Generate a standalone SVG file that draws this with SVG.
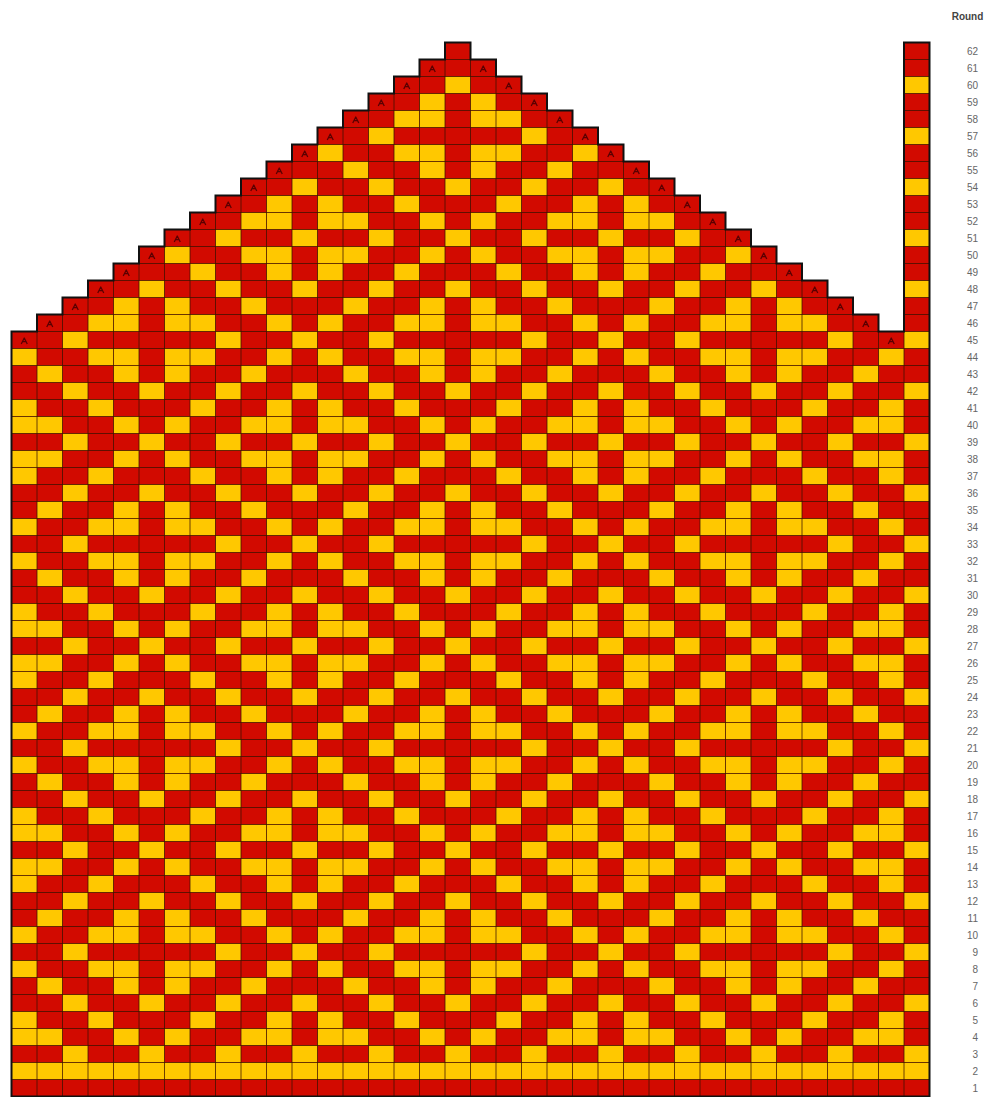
<svg xmlns="http://www.w3.org/2000/svg" xmlns:xlink="http://www.w3.org/1999/xlink" width="993" height="1097" viewBox="0 0 993 1097">
<style>
.lbl{font-family:"Liberation Sans",Arial,sans-serif;font-size:10px;fill:#666;text-anchor:end}
.ttl{font-family:"Liberation Sans",Arial,sans-serif;font-size:10px;font-weight:bold;fill:#444;text-anchor:middle}
.grid{stroke:#3a1200;stroke-width:1;opacity:0.75;fill:none}
.dec{fill:none;stroke:#5a0000;stroke-width:1.3;stroke-linejoin:round}
</style>
<defs>
<clipPath id="shape">
<path id="outlinePath" d="M11.5,1096.5 L11.5,331.5 L37,331.5 L37,314.5 L62.5,314.5 L62.5,297.5 L88,297.5 L88,280.5 L113.5,280.5 L113.5,263.5 L139,263.5 L139,246.5 L164.5,246.5 L164.5,229.5 L190,229.5 L190,212.5 L215.5,212.5 L215.5,195.5 L241,195.5 L241,178.5 L266.5,178.5 L266.5,161.5 L292,161.5 L292,144.5 L317.5,144.5 L317.5,127.5 L343,127.5 L343,110.5 L368.5,110.5 L368.5,93.5 L394,93.5 L394,76.5 L419.5,76.5 L419.5,59.5 L445,59.5 L445,42.5 L470.5,42.5 L470.5,59.5 L496,59.5 L496,76.5 L521.5,76.5 L521.5,93.5 L547,93.5 L547,110.5 L572.5,110.5 L572.5,127.5 L598,127.5 L598,144.5 L623.5,144.5 L623.5,161.5 L649,161.5 L649,178.5 L674.5,178.5 L674.5,195.5 L700,195.5 L700,212.5 L725.5,212.5 L725.5,229.5 L751,229.5 L751,246.5 L776.5,246.5 L776.5,263.5 L802,263.5 L802,280.5 L827.5,280.5 L827.5,297.5 L853,297.5 L853,314.5 L878.5,314.5 L878.5,331.5 L904,331.5 L904,42.5 L929.5,42.5 L929.5,1096.5 Z"/>
</clipPath>
<rect id="c" width="25.5" height="17" fill="#ffc800"/>
<path id="dm" class="dec" d="M-3,3 L0,-3 L3,3 M-1.6,0.6 H1.6"/>
<g id="rA"><use href="#c" x="62.5"/><use href="#c" x="139"/><use href="#c" x="215.5"/><use href="#c" x="292"/><use href="#c" x="368.5"/><use href="#c" x="445"/><use href="#c" x="521.5"/><use href="#c" x="598"/><use href="#c" x="674.5"/><use href="#c" x="751"/><use href="#c" x="827.5"/><use href="#c" x="904"/></g>
<g id="rB"><use href="#c" x="11.5"/><use href="#c" x="37"/><use href="#c" x="113.5"/><use href="#c" x="164.5"/><use href="#c" x="241"/><use href="#c" x="266.5"/><use href="#c" x="317.5"/><use href="#c" x="343"/><use href="#c" x="419.5"/><use href="#c" x="470.5"/><use href="#c" x="547"/><use href="#c" x="572.5"/><use href="#c" x="623.5"/><use href="#c" x="649"/><use href="#c" x="725.5"/><use href="#c" x="776.5"/><use href="#c" x="853"/><use href="#c" x="878.5"/></g>
<g id="rC"><use href="#c" x="11.5"/><use href="#c" x="88"/><use href="#c" x="190"/><use href="#c" x="266.5"/><use href="#c" x="317.5"/><use href="#c" x="394"/><use href="#c" x="496"/><use href="#c" x="572.5"/><use href="#c" x="623.5"/><use href="#c" x="700"/><use href="#c" x="802"/><use href="#c" x="878.5"/></g>
<g id="rD"><use href="#c" x="37"/><use href="#c" x="113.5"/><use href="#c" x="164.5"/><use href="#c" x="241"/><use href="#c" x="343"/><use href="#c" x="419.5"/><use href="#c" x="470.5"/><use href="#c" x="547"/><use href="#c" x="649"/><use href="#c" x="725.5"/><use href="#c" x="776.5"/><use href="#c" x="853"/></g>
<g id="rE"><use href="#c" x="11.5"/><use href="#c" x="88"/><use href="#c" x="113.5"/><use href="#c" x="164.5"/><use href="#c" x="190"/><use href="#c" x="266.5"/><use href="#c" x="317.5"/><use href="#c" x="394"/><use href="#c" x="419.5"/><use href="#c" x="470.5"/><use href="#c" x="496"/><use href="#c" x="572.5"/><use href="#c" x="623.5"/><use href="#c" x="700"/><use href="#c" x="725.5"/><use href="#c" x="776.5"/><use href="#c" x="802"/><use href="#c" x="878.5"/></g>
<g id="rF"><use href="#c" x="62.5"/><use href="#c" x="215.5"/><use href="#c" x="292"/><use href="#c" x="368.5"/><use href="#c" x="521.5"/><use href="#c" x="598"/><use href="#c" x="674.5"/><use href="#c" x="827.5"/><use href="#c" x="904"/></g>
</defs>
<rect width="993" height="1097" fill="#ffffff"/>
<g id="chart">
<g clip-path="url(#shape)">
<rect x="11.5" y="42.5" width="918" height="1054" fill="#d20a00"/>
<g id="cells">
<use href="#rB" y="42.5"/>
<use href="#rC" y="59.5"/>
<use href="#rA" y="76.5"/>
<use href="#rD" y="93.5"/>
<use href="#rE" y="110.5"/>
<use href="#rF" y="127.5"/>
<use href="#rE" y="144.5"/>
<use href="#rD" y="161.5"/>
<use href="#rA" y="178.5"/>
<use href="#rC" y="195.5"/>
<use href="#rB" y="212.5"/>
<use href="#rA" y="229.5"/>
<use href="#rB" y="246.5"/>
<use href="#rC" y="263.5"/>
<use href="#rA" y="280.5"/>
<use href="#rD" y="297.5"/>
<use href="#rE" y="314.5"/>
<use href="#rF" y="331.5"/>
<use href="#rE" y="348.5"/>
<use href="#rD" y="365.5"/>
<use href="#rA" y="382.5"/>
<use href="#rC" y="399.5"/>
<use href="#rB" y="416.5"/>
<use href="#rA" y="433.5"/>
<use href="#rB" y="450.5"/>
<use href="#rC" y="467.5"/>
<use href="#rA" y="484.5"/>
<use href="#rD" y="501.5"/>
<use href="#rE" y="518.5"/>
<use href="#rF" y="535.5"/>
<use href="#rE" y="552.5"/>
<use href="#rD" y="569.5"/>
<use href="#rA" y="586.5"/>
<use href="#rC" y="603.5"/>
<use href="#rB" y="620.5"/>
<use href="#rA" y="637.5"/>
<use href="#rB" y="654.5"/>
<use href="#rC" y="671.5"/>
<use href="#rA" y="688.5"/>
<use href="#rD" y="705.5"/>
<use href="#rE" y="722.5"/>
<use href="#rF" y="739.5"/>
<use href="#rE" y="756.5"/>
<use href="#rD" y="773.5"/>
<use href="#rA" y="790.5"/>
<use href="#rC" y="807.5"/>
<use href="#rB" y="824.5"/>
<use href="#rA" y="841.5"/>
<use href="#rB" y="858.5"/>
<use href="#rC" y="875.5"/>
<use href="#rA" y="892.5"/>
<use href="#rD" y="909.5"/>
<use href="#rE" y="926.5"/>
<use href="#rF" y="943.5"/>
<use href="#rE" y="960.5"/>
<use href="#rD" y="977.5"/>
<use href="#rA" y="994.5"/>
<use href="#rC" y="1011.5"/>
<use href="#rB" y="1028.5"/>
<use href="#rA" y="1045.5"/>
<rect x="11.5" y="1062.5" width="918" height="17" fill="#ffc800"/>
</g>
<path class="grid" d="M11.5,59.5H929.5M11.5,76.5H929.5M11.5,93.5H929.5M11.5,110.5H929.5M11.5,127.5H929.5M11.5,144.5H929.5M11.5,161.5H929.5M11.5,178.5H929.5M11.5,195.5H929.5M11.5,212.5H929.5M11.5,229.5H929.5M11.5,246.5H929.5M11.5,263.5H929.5M11.5,280.5H929.5M11.5,297.5H929.5M11.5,314.5H929.5M11.5,331.5H929.5M11.5,348.5H929.5M11.5,365.5H929.5M11.5,382.5H929.5M11.5,399.5H929.5M11.5,416.5H929.5M11.5,433.5H929.5M11.5,450.5H929.5M11.5,467.5H929.5M11.5,484.5H929.5M11.5,501.5H929.5M11.5,518.5H929.5M11.5,535.5H929.5M11.5,552.5H929.5M11.5,569.5H929.5M11.5,586.5H929.5M11.5,603.5H929.5M11.5,620.5H929.5M11.5,637.5H929.5M11.5,654.5H929.5M11.5,671.5H929.5M11.5,688.5H929.5M11.5,705.5H929.5M11.5,722.5H929.5M11.5,739.5H929.5M11.5,756.5H929.5M11.5,773.5H929.5M11.5,790.5H929.5M11.5,807.5H929.5M11.5,824.5H929.5M11.5,841.5H929.5M11.5,858.5H929.5M11.5,875.5H929.5M11.5,892.5H929.5M11.5,909.5H929.5M11.5,926.5H929.5M11.5,943.5H929.5M11.5,960.5H929.5M11.5,977.5H929.5M11.5,994.5H929.5M11.5,1011.5H929.5M11.5,1028.5H929.5M11.5,1045.5H929.5M11.5,1062.5H929.5M11.5,1079.5H929.5M37,42.5V1096.5M62.5,42.5V1096.5M88,42.5V1096.5M113.5,42.5V1096.5M139,42.5V1096.5M164.5,42.5V1096.5M190,42.5V1096.5M215.5,42.5V1096.5M241,42.5V1096.5M266.5,42.5V1096.5M292,42.5V1096.5M317.5,42.5V1096.5M343,42.5V1096.5M368.5,42.5V1096.5M394,42.5V1096.5M419.5,42.5V1096.5M445,42.5V1096.5M470.5,42.5V1096.5M496,42.5V1096.5M521.5,42.5V1096.5M547,42.5V1096.5M572.5,42.5V1096.5M598,42.5V1096.5M623.5,42.5V1096.5M649,42.5V1096.5M674.5,42.5V1096.5M700,42.5V1096.5M725.5,42.5V1096.5M751,42.5V1096.5M776.5,42.5V1096.5M802,42.5V1096.5M827.5,42.5V1096.5M853,42.5V1096.5M878.5,42.5V1096.5M904,42.5V1096.5"/>
<g id="decreases">
<use href="#dm" x="24.25" y="341"/><use href="#dm" x="49.75" y="324"/><use href="#dm" x="75.25" y="307"/><use href="#dm" x="100.75" y="290"/><use href="#dm" x="126.25" y="273"/><use href="#dm" x="151.75" y="256"/><use href="#dm" x="177.25" y="239"/><use href="#dm" x="202.75" y="222"/><use href="#dm" x="228.25" y="205"/><use href="#dm" x="253.75" y="188"/><use href="#dm" x="279.25" y="171"/><use href="#dm" x="304.75" y="154"/><use href="#dm" x="330.25" y="137"/><use href="#dm" x="355.75" y="120"/><use href="#dm" x="381.25" y="103"/><use href="#dm" x="406.75" y="86"/><use href="#dm" x="432.25" y="69"/>
<use href="#dm" x="891.25" y="341"/><use href="#dm" x="865.75" y="324"/><use href="#dm" x="840.25" y="307"/><use href="#dm" x="814.75" y="290"/><use href="#dm" x="789.25" y="273"/><use href="#dm" x="763.75" y="256"/><use href="#dm" x="738.25" y="239"/><use href="#dm" x="712.75" y="222"/><use href="#dm" x="687.25" y="205"/><use href="#dm" x="661.75" y="188"/><use href="#dm" x="636.25" y="171"/><use href="#dm" x="610.75" y="154"/><use href="#dm" x="585.25" y="137"/><use href="#dm" x="559.75" y="120"/><use href="#dm" x="534.25" y="103"/><use href="#dm" x="508.75" y="86"/><use href="#dm" x="483.25" y="69"/>
</g>
</g>
<use href="#outlinePath" fill="none" stroke="#111" stroke-width="2"/>
</g>
<g id="labels">
<text class="ttl" x="967.5" y="20">Round</text>
<text class="lbl" x="978" y="54.5">62</text>
<text class="lbl" x="978" y="71.5">61</text>
<text class="lbl" x="978" y="88.5">60</text>
<text class="lbl" x="978" y="105.5">59</text>
<text class="lbl" x="978" y="122.5">58</text>
<text class="lbl" x="978" y="139.5">57</text>
<text class="lbl" x="978" y="156.5">56</text>
<text class="lbl" x="978" y="173.5">55</text>
<text class="lbl" x="978" y="190.5">54</text>
<text class="lbl" x="978" y="207.5">53</text>
<text class="lbl" x="978" y="224.5">52</text>
<text class="lbl" x="978" y="241.5">51</text>
<text class="lbl" x="978" y="258.5">50</text>
<text class="lbl" x="978" y="275.5">49</text>
<text class="lbl" x="978" y="292.5">48</text>
<text class="lbl" x="978" y="309.5">47</text>
<text class="lbl" x="978" y="326.5">46</text>
<text class="lbl" x="978" y="343.5">45</text>
<text class="lbl" x="978" y="360.5">44</text>
<text class="lbl" x="978" y="377.5">43</text>
<text class="lbl" x="978" y="394.5">42</text>
<text class="lbl" x="978" y="411.5">41</text>
<text class="lbl" x="978" y="428.5">40</text>
<text class="lbl" x="978" y="445.5">39</text>
<text class="lbl" x="978" y="462.5">38</text>
<text class="lbl" x="978" y="479.5">37</text>
<text class="lbl" x="978" y="496.5">36</text>
<text class="lbl" x="978" y="513.5">35</text>
<text class="lbl" x="978" y="530.5">34</text>
<text class="lbl" x="978" y="547.5">33</text>
<text class="lbl" x="978" y="564.5">32</text>
<text class="lbl" x="978" y="581.5">31</text>
<text class="lbl" x="978" y="598.5">30</text>
<text class="lbl" x="978" y="615.5">29</text>
<text class="lbl" x="978" y="632.5">28</text>
<text class="lbl" x="978" y="649.5">27</text>
<text class="lbl" x="978" y="666.5">26</text>
<text class="lbl" x="978" y="683.5">25</text>
<text class="lbl" x="978" y="700.5">24</text>
<text class="lbl" x="978" y="717.5">23</text>
<text class="lbl" x="978" y="734.5">22</text>
<text class="lbl" x="978" y="751.5">21</text>
<text class="lbl" x="978" y="768.5">20</text>
<text class="lbl" x="978" y="785.5">19</text>
<text class="lbl" x="978" y="802.5">18</text>
<text class="lbl" x="978" y="819.5">17</text>
<text class="lbl" x="978" y="836.5">16</text>
<text class="lbl" x="978" y="853.5">15</text>
<text class="lbl" x="978" y="870.5">14</text>
<text class="lbl" x="978" y="887.5">13</text>
<text class="lbl" x="978" y="904.5">12</text>
<text class="lbl" x="978" y="921.5">11</text>
<text class="lbl" x="978" y="938.5">10</text>
<text class="lbl" x="978" y="955.5">9</text>
<text class="lbl" x="978" y="972.5">8</text>
<text class="lbl" x="978" y="989.5">7</text>
<text class="lbl" x="978" y="1006.5">6</text>
<text class="lbl" x="978" y="1023.5">5</text>
<text class="lbl" x="978" y="1040.5">4</text>
<text class="lbl" x="978" y="1057.5">3</text>
<text class="lbl" x="978" y="1074.5">2</text>
<text class="lbl" x="978" y="1091.5">1</text>
</g>
</svg>
